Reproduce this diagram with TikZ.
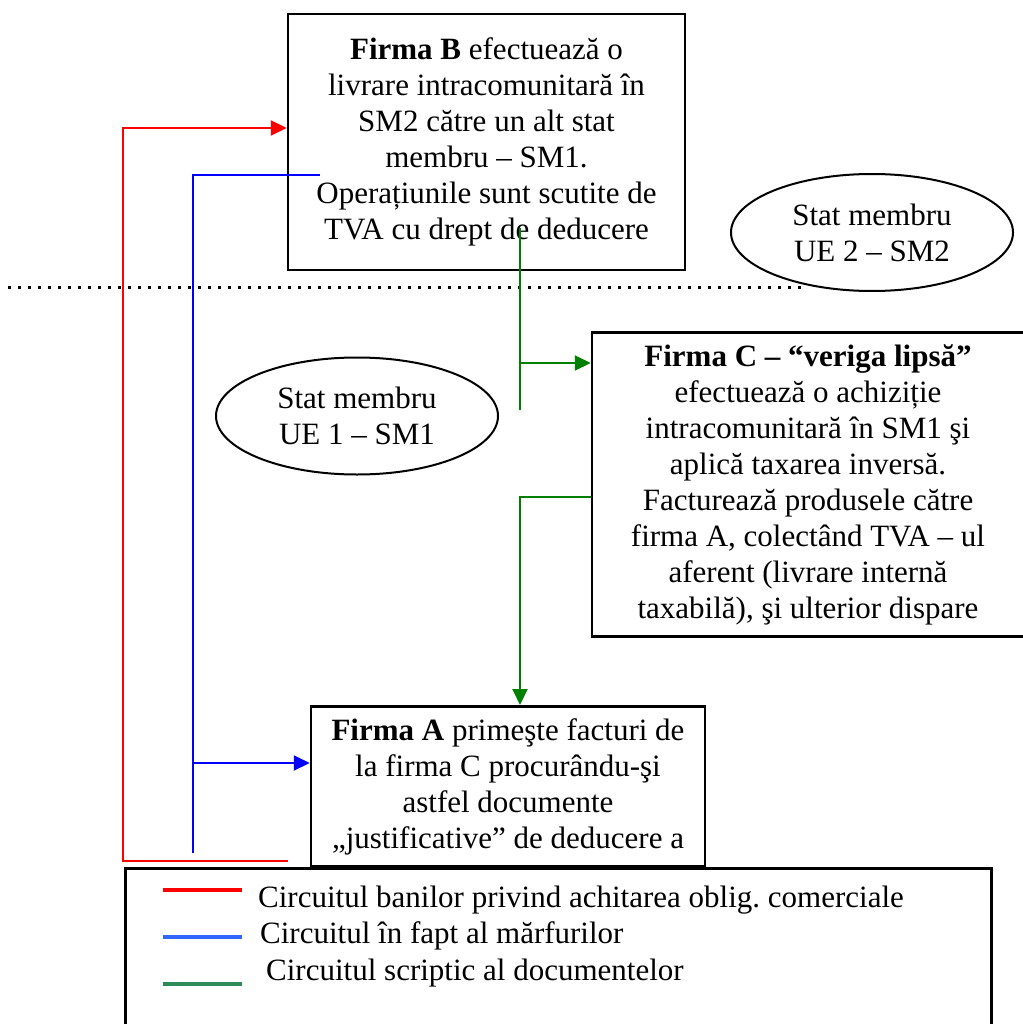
\documentclass[tikz,border=0pt]{standalone}
\usepackage{fontspec}
\setmainfont{Liberation Serif}
\frenchspacing
\usetikzlibrary{positioning,calc,arrows.meta,shapes.geometric}
\definecolor{banred}{HTML}{FF0000}
\definecolor{marfblue}{HTML}{0000FF}
\definecolor{docgrn}{HTML}{008000}
\definecolor{legblue}{HTML}{3366FF}
\definecolor{leggrn}{HTML}{2E8B57}
\tikzset{
  every node/.append style={font=\fontsize{31}{36}\selectfont},
  firm/.style={draw, line width=2.5pt, align=center, inner xsep=4pt, inner ysep=12pt},
  stat/.style={ellipse, draw, line width=2pt, align=center,
               minimum width=282pt, minimum height=117pt, inner sep=0pt},
  flux/.style={line width=2pt},
  arr/.style={flux, -{Triangle[length=16pt,width=15pt]}},
  legline/.style={line width=4pt},
  legtxt/.style={anchor=base west, inner sep=0pt},
}
\begin{document}
\begin{tikzpicture}[x=1pt,y=-1pt]
  \useasboundingbox (0,0) rectangle (1022,1024);
  % granita SM1 / SM2
  \draw[line width=3pt, dash pattern=on 3pt off 7pt] (8,287) -- (802,287);

  \node[firm, minimum width=397pt, minimum height=256pt] (B) at (486.5,142)
    {\textbf{Firma B} efectuează o\\ livrare intracomunitară în\\ SM2 către un alt stat\\
     membru – SM1.\\ Operațiunile sunt scutite de\\ TVA cu drept de deducere};
  \node[firm, minimum width=432pt, minimum height=303pt] (C) at (808,484.5)
    {\textbf{Firma C – “veriga lipsă”}\\ efectuează o achiziție\\ intracomunitară în SM1 şi\\
     aplică taxarea inversă.\\ Facturează produsele către\\ firma A, colectând TVA – ul\\
     aferent (livrare internă\\ taxabilă), şi ulterior dispare};
  \node[firm, anchor=north, minimum width=394pt] (A) at (508,705)
    {\textbf{Firma A} primeşte facturi de\\ la firma C procurându-şi\\ astfel documente\\
     „justificative” de deducere a};
  \node[stat] (SM2) at (872,232.5) {Stat membru\\ UE 2 – SM2};
  \node[stat] (SM1) at (357,416) {Stat membru\\ UE 1 – SM1};

  % circuitul banilor
  \coordinate (redstart) at (288,861);
  \draw[arr, banred] (redstart) -- ++(-165,0) |- ([yshift=14pt]B.west);
  % circuitul marfurilor
  \coordinate (bluestart) at (320,175);
  \coordinate (blueend) at (193,853);
  \draw[flux, marfblue] (bluestart) -| (blueend);
  \draw[arr, marfblue] (blueend |- 0,763) -- (A.west |- 0,763);
  % circuitul documentelor
  \coordinate (grnstart) at (520,228);
  \coordinate (grnend) at (520,410);
  \draw[flux, docgrn] (grnstart) -- (grnend);
  \draw[arr, docgrn] ([yshift=121.5pt]C.west -| grnstart) -- ([yshift=121.5pt]C.west);
  \draw[arr, docgrn] ([yshift=-12.5pt]C.west) -| ([xshift=12pt]A.north);

  % legenda
  \node[draw, line width=2.5pt, fill=white, anchor=north west,
        minimum width=866pt, minimum height=200pt] (leg) at (124,867) {};
  \foreach \ly/\ty/\tx/\col/\txt in
     {890/907/258/banred/{Circuitul banilor privind achitarea oblig. comerciale},
      937/943/260/legblue/{Circuitul în fapt al mărfurilor},
      984/980/266/leggrn/{Circuitul scriptic al documentelor}}{
    \draw[legline, \col] (163,\ly) -- (242,\ly);
    \node[legtxt] at (\tx,\ty) {\txt};
  }
\end{tikzpicture}
\end{document}
